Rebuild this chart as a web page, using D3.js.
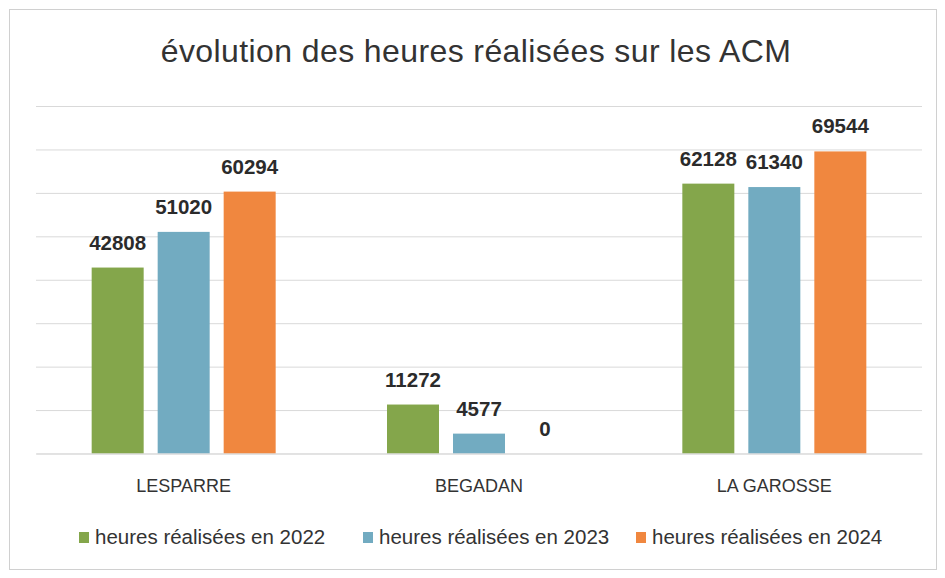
<!DOCTYPE html>
<html>
<head>
<meta charset="utf-8">
<script src="https://cdn.jsdelivr.net/npm/d3@7"></script>
<style>
  html, body { margin: 0; padding: 0; background: #ffffff; }
  svg { display: block; }
</style>
</head>
<body>
<svg id="chart" width="945" height="578"></svg>
<script>
const title = "évolution des heures réalisées sur les ACM";
const categories = ["LESPARRE", "BEGADAN", "LA GAROSSE"];
const seriesNames = ["heures réalisées en 2022", "heures réalisées en 2023", "heures réalisées en 2024"];
const values2022 = [42808, 11272, 62128];
const values2023 = [51020, 4577, 61340];
const values2024 = [60294, 0, 69544];
const yTicks = [0, 10000, 20000, 30000, 40000, 50000, 60000, 70000, 80000];
const seriesColors = ["#84a64b", "#72abc1", "#f0873f"];

const seriesValues = [values2022, values2023, values2024];

const svg = d3.select("#chart");
const FONT = "'Liberation Sans', Arial, sans-serif";
const plot = { left: 36, right: 922, top: 106, bottom: 453.5 };

// frame
svg.append("rect").attr("x", 9.5).attr("y", 9.5).attr("width", 927).attr("height", 560)
  .attr("fill", "#ffffff").attr("stroke", "#d0d0d0").attr("stroke-width", 1);

const y = d3.scaleLinear().domain([0, 80000]).range([plot.bottom, plot.top]);
const x0 = d3.scaleBand().domain(categories).range([plot.left, plot.right]).paddingInner(0).paddingOuter(0);
const groupW = 184;
const x1 = d3.scaleBand().domain(d3.range(seriesNames.length)).range([0, groupW]).paddingInner(14 / 66).paddingOuter(0);
const groupOffset = (x0.bandwidth() - groupW) / 2;

// gridlines via axis
const yAxis = d3.axisLeft(y).tickValues(yTicks).tickSize(-(plot.right - plot.left)).tickFormat("");
const gGrid = svg.append("g").attr("transform", `translate(${plot.left},0)`).call(yAxis);
gGrid.select(".domain").remove();
gGrid.selectAll(".tick line").attr("stroke", "#d9d9d9").attr("stroke-width", 1);

// title
svg.append("text").attr("x", 476).attr("y", 62).attr("text-anchor", "middle")
  .attr("font-family", FONT).attr("letter-spacing", 0.4)
  .attr("font-size", 32).attr("fill", "#333333").text(title);

// bars
const rows = [];
categories.forEach((c, ci) => {
  seriesValues.forEach((vals, si) => rows.push({ cat: c, si, v: vals[ci] }));
});

const bars = svg.append("g");
bars.selectAll("rect").data(rows).join("rect")
  .attr("x", d => x0(d.cat) + groupOffset + x1(d.si))
  .attr("width", x1.bandwidth())
  .attr("y", d => y(d.v))
  .attr("height", d => y(0) - y(d.v))
  .attr("fill", d => seriesColors[d.si]);

// value labels
svg.append("g").selectAll("text").data(rows).join("text")
  .attr("x", d => x0(d.cat) + groupOffset + x1(d.si) + x1.bandwidth() / 2)
  .attr("y", d => y(d.v) - 18)
  .attr("text-anchor", "middle")
  .attr("font-family", FONT)
  .attr("font-weight", "bold")
  .attr("font-size", 20.5)
  .attr("fill", "#2b2b2b")
  .text(d => d.v);

// category axis
const xAxis = d3.axisBottom(x0).tickSize(0).tickPadding(0);
const gX = svg.append("g").attr("transform", `translate(0,${plot.bottom})`).call(xAxis);
gX.select(".domain").attr("stroke", "#d9d9d9");
gX.selectAll(".tick text")
  .attr("dy", 0).attr("y", 38.5)
  .attr("font-family", FONT)
  .attr("font-size", 18).attr("fill", "#333333");

// legend
const legendX = [79, 363, 636];
const legend = svg.append("g");
seriesNames.forEach((n, i) => {
  legend.append("rect").attr("x", legendX[i]).attr("y", 532).attr("width", 10).attr("height", 11)
    .attr("fill", seriesColors[i]);
  legend.append("text").attr("x", legendX[i] + 16).attr("y", 544)
    .attr("font-family", FONT)
    .attr("font-size", 20.5).attr("fill", "#333333").text(n);
});
</script>
</body>
</html>
